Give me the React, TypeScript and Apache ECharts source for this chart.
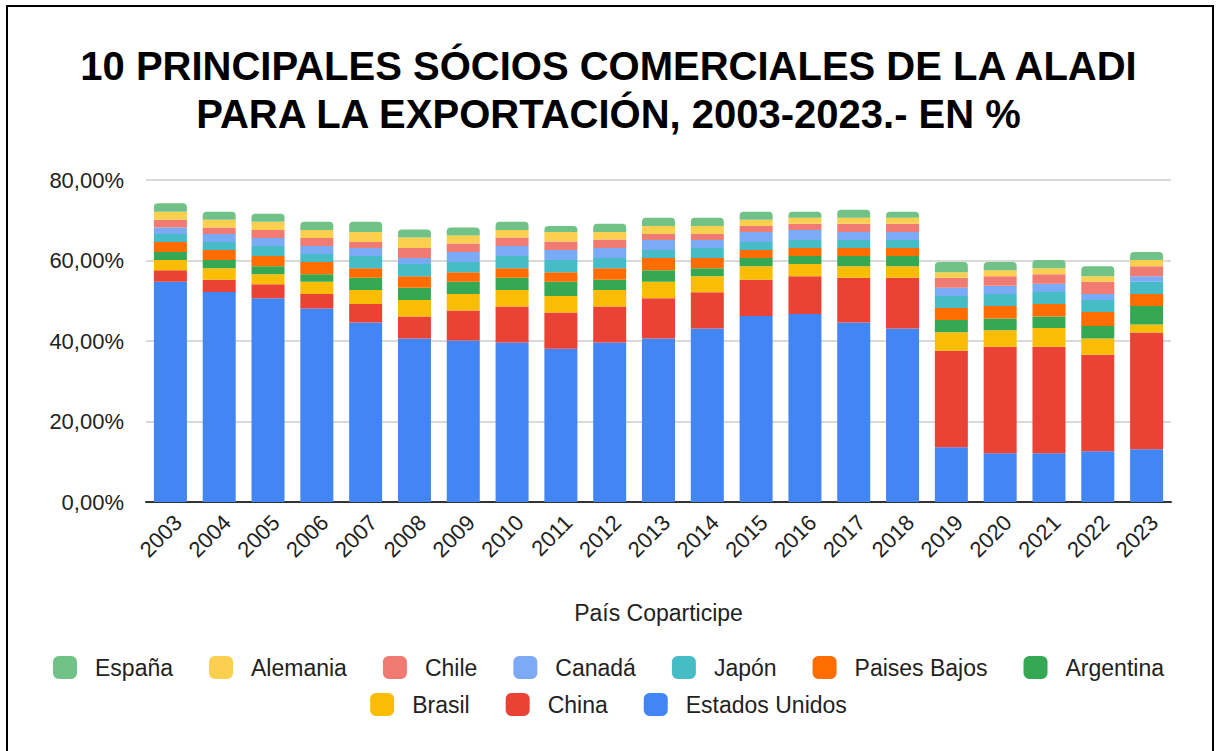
import React, { useEffect, useRef } from "react";
import * as echarts from "echarts";

const years = ["2003","2004","2005","2006","2007","2008","2009","2010","2011","2012","2013","2014","2015","2016","2017","2018","2019","2020","2021","2022","2023"];

const estadosUnidos = [54.7,52.2,50.6,48.1,44.6,40.6,40.1,39.6,38.1,39.6,40.6,43.1,46.2,46.7,44.6,43.1,13.6,12.1,12.1,12.6,13.1];
const china = [2.9,3.0,3.5,3.6,4.6,5.5,7.5,9.0,9.0,9.0,10.0,9.0,9.0,9.4,11.1,12.6,24.0,26.5,26.5,24.0,29.0];
const brasil = [2.5,2.9,2.5,3.0,3.5,4.1,4.1,4.1,4.1,4.1,4.1,4.0,3.4,3.0,2.9,2.9,4.6,4.1,4.6,4.0,2.0];
const argentina = [2.0,2.0,2.0,1.9,3.0,3.0,3.0,3.0,3.5,2.5,2.9,2.0,2.0,2.0,2.5,2.5,3.0,2.9,2.9,3.1,4.6];
const paisesBajos = [2.5,2.5,2.5,3.0,2.4,2.9,2.4,2.4,2.4,2.9,3.0,2.5,2.0,2.0,2.0,2.0,3.0,3.1,3.1,3.5,3.0];
const japon = [2.0,2.0,2.5,2.0,3.0,3.0,2.5,3.0,3.0,2.5,2.0,2.5,2.0,2.0,2.0,2.0,3.0,3.0,3.0,3.0,3.0];
const canada = [1.6,2.0,2.0,2.0,2.0,1.5,2.5,2.5,2.5,2.5,2.5,2.0,2.5,2.5,2.0,2.0,2.0,2.0,2.0,1.5,1.4];
const chile = [1.9,1.6,2.0,2.0,1.5,2.5,2.1,2.1,2.1,2.1,1.5,1.5,1.5,1.5,2.0,2.0,2.5,2.4,2.4,3.0,2.5];
const alemania = [2.0,1.9,2.0,2.0,2.5,2.6,2.0,1.9,2.4,1.9,2.0,2.0,1.5,1.5,1.5,1.5,1.4,1.5,1.5,1.4,1.5];
const espana = [2.1,2.0,2.0,2.0,2.5,2.0,2.0,2.0,1.5,2.0,2.0,2.0,2.0,1.5,2.0,1.5,2.5,2.0,2.0,2.5,2.0];

const seriesNames = ["Estados Unidos","China","Brasil","Argentina","Paises Bajos","Japón","Canadá","Chile","Alemania","España"];
const seriesData = [estadosUnidos, china, brasil, argentina, paisesBajos, japon, canada, chile, alemania, espana];
const seriesColors = ["#4285F4","#EA4335","#FBBC04","#34A853","#FF6D01","#46BDC6","#7BAAF7","#F07B72","#FCD04F","#71C287"];

const legendRow1 = ["España","Alemania","Chile","Canadá","Japón","Paises Bajos","Argentina"];
const legendRow2 = ["Brasil","China","Estados Unidos"];

const FONT = "'Liberation Sans', Arial, sans-serif";

export default function App() {
  const ref = useRef<HTMLDivElement>(null);
  useEffect(() => {
    if (!ref.current) return;
    const chart = echarts.init(ref.current, null, { renderer: "svg" });
    const legendCommon = {
      left: "center",
      itemWidth: 24,
      itemHeight: 23,
      itemGap: 36,
      icon: "roundRect",
      textStyle: { fontSize: 23, color: "#222", fontFamily: FONT, padding: [0, 0, 0, 13] },
      selectedMode: false,
    };
    chart.setOption({
      animation: false,
      backgroundColor: "#fff",
      textStyle: { fontFamily: FONT },
      title: {
        text: "10 PRINCIPALES SÓCIOS COMERCIALES DE LA ALADI\nPARA LA EXPORTACIÓN, 2003-2023.- EN %",
        left: "center",
        top: 37,
        textStyle: { fontSize: 40, fontWeight: "bold", color: "#000", fontFamily: FONT, lineHeight: 48 },
      },
      legend: [
        { ...legendCommon, top: 651, data: legendRow1 },
        { ...legendCommon, top: 688, data: legendRow2 },
      ],
      grid: { left: 146, right: 46, top: 180, bottom: 249, containLabel: false },
      xAxis: {
        type: "category",
        data: years,
        name: "País Coparticipe",
        nameLocation: "middle",
        nameGap: 99,
        nameTextStyle: { fontSize: 23, color: "#222", fontFamily: FONT },
        axisTick: { show: false },
        axisLine: { lineStyle: { color: "#333", width: 2 } },
        axisLabel: { rotate: 45, fontSize: 22, color: "#222", margin: 9, verticalAlign: "top", fontFamily: FONT },
      },
      yAxis: {
        type: "value",
        min: 0,
        max: 80,
        interval: 20,
        axisLine: { show: false },
        axisTick: { show: false },
        splitLine: { lineStyle: { color: "#ccc", width: 1.5 } },
        axisLabel: {
          fontSize: 22,
          color: "#222",
          margin: 22,
          fontFamily: FONT,
          formatter: (v: number) => v.toFixed(2).replace(".", ",") + "%",
        },
      },
      series: seriesNames.map((name, i) => ({
        name,
        type: "bar",
        stack: "total",
        barWidth: 33,
        data: seriesData[i],
        itemStyle: {
          color: seriesColors[i],
          borderRadius: i === seriesNames.length - 1 ? [4, 4, 0, 0] : 0,
        },
      })),
      graphic: [
        {
          type: "rect",
          shape: { x: 7, y: 6, width: 1206, height: 800 },
          style: { fill: "none", stroke: "#000", lineWidth: 2 },
          silent: true,
          z: 100,
        },
      ],
    });
    return () => chart.dispose();
  }, []);
  return (
    <>
      <style>{"body{margin:0;}"}</style>
      <div ref={ref} style={{ width: 1217, height: 751 }} />
    </>
  );
}
